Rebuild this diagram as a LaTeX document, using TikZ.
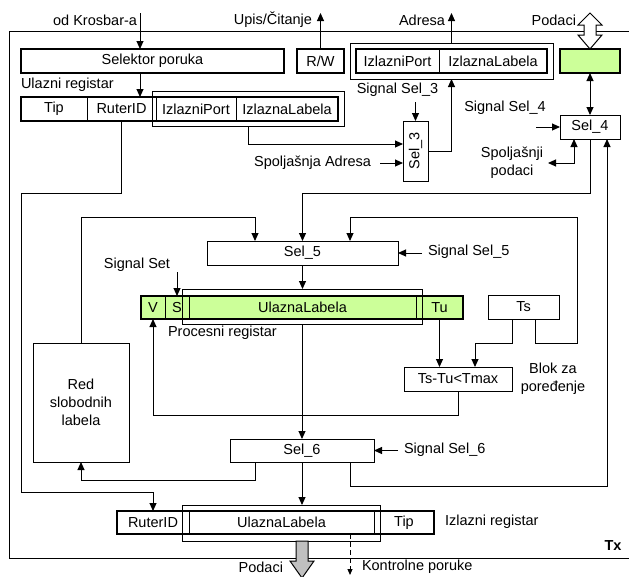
\documentclass[tikz,border=0pt]{standalone}
\usepackage{fontspec}
\setmainfont{Liberation Sans}
\usetikzlibrary{arrows.meta}
\definecolor{lgreen}{RGB}{204,255,153}
\definecolor{agray}{RGB}{192,192,192}
\begin{document}
\begin{tikzpicture}[x=1pt,y=-1pt,
 every node/.style={font=\fontsize{14.5}{18}\selectfont, inner sep=0pt, outer sep=0pt},
 box/.style={draw, line width=1pt, minimum height=24pt, align=center},
 tbox/.style={draw, line width=2pt, minimum height=24pt},
 ln/.style={line width=1pt},
 arr/.style={line width=1pt, -{Triangle[length=8pt,width=7pt]}},
 arr2/.style={line width=1pt, {Triangle[length=8pt,width=7pt]}-{Triangle[length=8pt,width=7pt]}}]
\useasboundingbox (0,0) rectangle (629,576);
\fill[white] (0,0) rectangle (629,576);
% frame
\draw[ln] (629,31) -- (9,31) -- (9,558) -- (629,558);
% top row
\node[tbox, minimum width=263pt] (sel) at (152.5,61) {Selektor poruka};
\node[tbox, minimum width=47pt] (rw) at (320.5,61) {R/W};
\node[box, minimum width=203pt, minimum height=36pt] (outov) at (451.5,61) {};
\node[tbox, minimum width=191pt] (outreg) at (451.5,61) {};
\node[box, minimum width=83pt] (outport) at (397.5,61) {IzlazniPort};
\node[box, minimum width=108pt] (outlab) at (493,61) {IzlaznaLabela};
\node[tbox, fill=lgreen, minimum width=60pt] (green) at (590,61) {};
\node[box, minimum width=60pt] (sel4) at (590,127) {Sel\_4};
\node[box, minimum width=25pt, minimum height=60pt] (sel3) at (415.5,151) {\rotatebox{90}{Sel\_3}};
% Ulazni registar
\node[tbox, minimum width=317pt] (ulreg) at (179.5,109) {};
\node[box, minimum width=66pt] (ultip) at (54,109) {Tip};
\node[box, minimum width=69pt] (ulruter) at (121.5,109) {RuterID};
\node[box, minimum width=80pt] (ulport) at (196,109) {IzlazniPort};
\node[box, minimum width=102pt] (ullab) at (287,109) {IzlaznaLabela};
\node[box, minimum width=192pt, minimum height=35pt] (ulov) at (248,108.5) {};
% Sel_5
\node[box, minimum width=191pt] (sel5) at (302.5,253) {Sel\_5};
% Procesni registar
\node[tbox, fill=lgreen, minimum width=322pt, minimum height=23pt] (preg) at (302,307.5) {};
\node[box, minimum width=24pt, minimum height=23pt] (pv) at (153,307.5) {V};
\node[box, minimum width=24pt, minimum height=23pt] (ps) at (177,307.5) {S};
\node[box, minimum width=227pt, minimum height=23pt] (plab) at (302.5,307.5) {UlaznaLabela};
\node[box, minimum width=47pt, minimum height=23pt] (ptu) at (439.5,307.5) {Tu};
\node[box, minimum width=240pt, minimum height=35pt] (pov) at (302,306.5) {};
\node[box, minimum width=71pt] (ts) at (523.5,307) {Ts};
\node[box, minimum width=108pt] (tstu) at (458,379) {Ts-Tu<Tmax};
\node[box, minimum width=96pt, minimum height=119pt] (red) at (81,402.5) {Red\\slobodnih\\labela};
\node[box, minimum width=144pt, minimum height=23pt] (sel6) at (302,450.5) {Sel\_6};
% Izlazni registar
\node[tbox, minimum width=317pt, minimum height=23pt] (izreg) at (275.5,522.5) {};
\node[box, minimum width=72pt, minimum height=23pt] (izruter) at (153,522.5) {RuterID};
\node[box, minimum width=185pt, minimum height=23pt] (izlab) at (281.5,522.5) {UlaznaLabela};
\node[box, minimum width=60pt, minimum height=23pt] (iztip) at (404,522.5) {Tip};
\node[box, minimum width=198pt, minimum height=36pt] (izov) at (281,523) {};
% labels
\node[anchor=east] (tkros) at (137,20) {od Krosbar-a};
\node[anchor=east] (tupis) at (312,20) {Upis/Čitanje};
\node[anchor=east] (tadr) at (445,20) {Adresa};
\node[anchor=east] (tpod) at (576,20) {Podaci};
\node[anchor=west] (tulaz) at (21,85) {Ulazni registar};
\node (tss3) at (397.5,90) {Signal Sel\_3};
\node[anchor=east] (tspa) at (371,163) {Spoljašnja Adresa};
\node (tss4) at (505,108) {Signal Sel\_4};
\node[align=center] (tspp) at (512,163) {Spoljašnji\\podaci};
\node (tset) at (137,265) {Signal Set};
\node[anchor=west] (tss5) at (428,252) {Signal Sel\_5};
\node[anchor=west] (tproc) at (168,333) {Procesni registar};
\node[align=center] (tblok) at (553,379) {Blok za\\poređenje};
\node[anchor=west] (tss6) at (404,450) {Signal Sel\_6};
\node[anchor=west] (tizl) at (445,522) {Izlazni registar};
\node[font=\fontsize{14.5}{18}\selectfont\bfseries] (ttx) at (613,546) {Tx};
\node[anchor=east] (tpod2) at (283,567) {Podaci};
\node[anchor=west] (tkon) at (362,567) {Kontrolne poruke};
% connectors
\coordinate (kin) at (140,13);
\draw[arr] (kin) -- (kin |- sel.north);
\draw[arr] (kin |- sel.south) -- (kin |- ulreg.north);
\coordinate (upis) at (320.5,13);
\draw[arr] (rw.north) -- (upis);
\coordinate (adr) at (451.5,13);
\draw[arr] (outov.north) -- (adr);
\draw[arr] (ulov.south) |- ([yshift=7pt]sel3.west);
\coordinate (spa) at (380,163);
\draw[arr] (spa) -- (spa -| sel3.west);
\coordinate (s3in) at (415.5,102);
\draw[arr] (s3in) -- (sel3.north);
\draw[arr] (sel3.east) -| (outov.south);
\draw[arr2] (green.south) -- (sel4.north);
\coordinate (s4in) at (536,127);
\draw[arr] (s4in) -- (sel4.west);
\coordinate (spp) at (548,163);
\draw[arr2] ([xshift=-16pt]sel4.south) |- (spp);
\coordinate (b45) at (302.5,193);
\draw[arr] (sel4.south) |- (b45) -- (sel5.north);
\coordinate (b64) at (607,486);
\draw[arr] ([xshift=-24pt]sel6.south east) |- (b64) -- ([xshift=17pt]sel4.south);
\coordinate (r1) at (21,193);
\coordinate (r2) at (21,492);
\draw[arr] (ulruter.south) |- (r1) -- (r2) -| (izruter.north);
\coordinate (rs) at (255,217);
\draw[arr] (red.north) |- (rs) -- (rs |- sel5.north);
\coordinate (t1) at (577,343);
\coordinate (t2) at (350,217);
\draw[arr] ([xshift=11.5pt]ts.south) |- (t1) |- (t2) -- (t2 |- sel5.north);
\coordinate (t3) at (475,343);
\draw[arr] ([xshift=-11.5pt]ts.south) |- (t3) -- (t3 |- tstu.north);
\draw[arr] (ptu.south) -- (ptu.south |- tstu.north);
\coordinate (v1) at (153,415);
\draw[arr] (tstu.south) |- (v1) -- (pv.south);
\coordinate (sset) at (177,272);
\draw[arr] (sset) -- (ps.north);
\draw[arr] (sel5.south) -- (sel5.south |- pov.north);
\draw[arr] (pov.south) -- (pov.south |- sel6.north);
\coordinate (ss5) at (422,253);
\draw[arr] (ss5) -- (sel5.east);
\coordinate (ss6) at (398,450.5);
\draw[arr] (ss6) -- (sel6.east);
\coordinate (sr) at (255,480);
\draw[arr] (sr |- sel6.south) -- (sr) -| (red.south);
\draw[arr] (sel6.south) -- (sel6.south |- izov.north);
% bottom gray arrow
\coordinate (g0) at (sel6.south |- izov.south);
\draw[ln, fill=agray] ([xshift=-6pt]g0) -- ([xshift=6pt]g0) -- ++(0,20) -- ++(6,0) -- ++(-12,17) -- ++(-12,-17) -- ++(6,0) -- cycle;
% dashed control arrow
\coordinate (k0) at (350,534);
\draw[ln, dash pattern=on 5pt off 3pt, -{Triangle[length=6pt,width=5pt]}] (k0) -- (350,575);
% top hollow double arrow
\coordinate (pd) at (590,13);
\draw[ln, fill=white] (pd) -- ++(12,12) -- ++(-6,0) -- ++(0,10) -- ++(6,0) -- ++(-12,14) -- ++(-12,-14) -- ++(6,0) -- ++(0,-10) -- ++(-6,0) -- cycle;
\end{tikzpicture}
\end{document}
